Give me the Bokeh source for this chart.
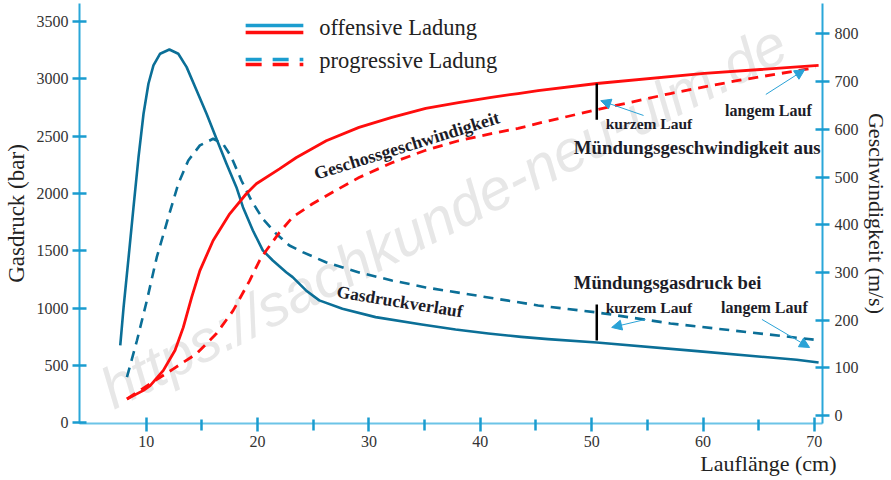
from bokeh.plotting import figure
from bokeh.models import Range1d, LinearAxis, FixedTicker, Label, Arrow, NormalHead, Title
from bokeh.embed import file_html
from bokeh.resources import INLINE

# ---------------- data ----------------
# offensive charge: gas pressure (bar) vs barrel length (cm)
off_p_x = [7.67, 7.97, 8.42, 8.86, 9.31, 9.76, 10.20, 10.65, 11.25, 12.08, 12.88, 13.63, 14.53,
           15.42, 16.31, 17.21, 18.10, 18.69, 19.58, 20.47, 21.37, 22.57, 23.15, 24.35, 25.54,
           27.62, 30.60, 34.74, 37.78, 40.72, 43.67, 46.08, 50.46, 59.48, 68.41, 70.38]
off_p_y = [675, 1009, 1445, 1881, 2318, 2696, 2958, 3118, 3220, 3257, 3220, 3103, 2899,
           2696, 2478, 2260, 2056, 1881, 1678, 1504, 1416, 1314, 1271, 1155, 1068,
           995, 922, 858, 814, 779, 750, 730, 700, 625, 550, 526]
# progressive charge: gas pressure (bar)
prog_p_x = [8.27, 9.17, 10.06, 10.95, 11.99, 12.88, 13.78, 14.82, 16.01, 16.90, 17.65, 18.55,
            19.44, 20.47, 21.67, 22.86, 24.05, 26.14, 29.11, 32.06, 35.10, 45.19, 50.46, 57.07,
            70.30]
prog_p_y = [398, 718, 1067, 1445, 1794, 2085, 2289, 2420, 2478, 2434, 2318, 2114,
            1940, 1780, 1650, 1547, 1489, 1401, 1312, 1242, 1181, 1024, 963, 867,
            722]
# offensive charge: projectile velocity (m/s)
off_v_x = [8.27, 9.76, 10.36, 11.54, 12.59, 13.33, 14.08, 14.82, 16.01, 17.50, 18.99, 19.89,
           21.97, 23.49, 26.17, 29.11, 32.06, 35.10, 38.04, 40.99, 43.40, 45.19, 50.46, 60.11,
           70.38]
off_v_y = [35, 53, 63, 95, 137, 185, 248, 304, 367, 423, 465, 486,
           517, 541, 576, 604, 625, 644, 656, 667, 675, 681, 696, 717,
           734]
# progressive charge: projectile velocity (m/s)
prog_v_x = [8.27, 10.36, 12.44, 14.53, 16.31, 17.80, 19.29, 20.18, 20.78, 21.97, 23.15, 24.94,
            27.03, 29.11, 32.06, 35.10, 38.04, 40.99, 43.40, 45.81, 50.46, 57.07, 63.05, 69.57,
            70.10]
prog_v_y = [35, 67, 98, 130, 172, 220, 283, 325, 346, 384, 416, 444,
            472, 499, 530, 556, 576, 591, 602, 616, 641, 675, 702, 727,
            730]

x_ticks = [10, 20, 30, 40, 50, 60, 70]
x_minor = [15, 25, 35, 45, 55, 65]
p_ticks = [0, 500, 1000, 1500, 2000, 2500, 3000, 3500]
v_ticks = [0, 100, 200, 300, 400, 500, 600, 700, 800]

# marker positions of muzzle values (short / long barrel)
short_x = 50.46
short_v = [696, 620]
short_p = [1032, 718]

# ---------------- styles ----------------
BLUE = "#0b6f97"
RED = "#ff0d0d"
LEG_BLUE = "#1b9dcf"
AXIS = "#2aa7d9"
AXIS_X = "#6cc4e7"
TICK = "#1a9ccf"
ARROW = "#2aa2d6"
TXT = "#1c1c28"
SERIF = "Liberation Serif"

p = figure(width=891, height=480, output_backend="svg", toolbar_location=None,
           x_range=Range1d(4.01, 70.73), y_range=Range1d(-6, 3658),
           min_border_left=79, min_border_right=65, min_border_top=3, min_border_bottom=57)
p.extra_y_ranges = {"v": Range1d(-16.4, 863.6)}
p.grid.visible = False
p.outline_line_color = None
p.background_fill_color = "white"

# watermark
p.add_layout(Label(x=36.7, y=1809, text="https://sachkunde-neu-ulm.de", angle=0.48,
                   text_align="center", text_baseline="middle", text_font="Liberation Sans",
                   text_font_style="italic", text_font_size="58px", text_color="#e7e7e7",
                   level="underlay"))

# axes
xa = p.xaxis[0]
xa.ticker = FixedTicker(ticks=x_ticks, minor_ticks=x_minor)
ya = p.yaxis[0]
ya.ticker = FixedTicker(ticks=p_ticks)
ra = LinearAxis(y_range_name="v", ticker=FixedTicker(ticks=v_ticks))
p.add_layout(ra, "right")

for ax in (xa, ya, ra):
    ax.axis_line_color = AXIS
    ax.axis_line_width = 2
    ax.major_tick_line_color = TICK
    ax.major_tick_line_width = 2.5
    ax.major_tick_in = 7
    ax.major_tick_out = 7
    ax.minor_tick_line_color = None
    ax.major_label_text_font = SERIF
    ax.major_label_text_font_size = "16px"
    ax.major_label_text_font_style = "normal"
    ax.major_label_text_color = "#333333"
    ax.major_label_standoff = 4
    ax.axis_label_text_font = SERIF
    ax.axis_label_text_font_style = "normal"
    ax.axis_label_text_color = "#222222"
xa.axis_line_color = AXIS_X
xa.minor_tick_line_color = TICK
xa.minor_tick_line_width = 2.5
xa.minor_tick_in = 4
xa.minor_tick_out = 7
xa.major_tick_in = 6
xa.major_tick_out = 8
xa.major_label_standoff = 4
ra.major_label_standoff = 5

ya.axis_label = "Gasdruck (bar)"
ya.axis_label_text_font_size = "23px"
ya.axis_label_standoff = 5
ra.axis_label = "Geschwindigkeit (m/s)"
ra.axis_label_text_font_size = "22px"
ra.axis_label_standoff = 2
p.add_layout(Title(text="Lauflänge (cm)", align="right", offset=-14, standoff=0,
                   vertical_align="middle", text_font=SERIF, text_font_style="normal",
                   text_font_size="22px", text_color="#222222"), "below")

# curves
p.line(off_p_x, off_p_y, line_color=BLUE, line_width=2.6, line_join="round")
p.line(prog_p_x, prog_p_y, line_color=BLUE, line_width=2.6, line_dash="10 7")
p.line(off_v_x, off_v_y, line_color=RED, line_width=2.8, line_join="round", y_range_name="v")
p.line(prog_v_x, prog_v_y, line_color=RED, line_width=2.8, line_dash="10 7", y_range_name="v")

# muzzle markers
p.segment(x0=[short_x], y0=[short_v[0]], x1=[short_x], y1=[short_v[1]], line_color="black",
          line_width=2.5, y_range_name="v")
p.segment(x0=[short_x], y0=[short_p[0]], x1=[short_x], y1=[short_p[1]], line_color="black",
          line_width=2.5)

def arrow(x0, y0, x1, y1, rng="default"):
    p.add_layout(Arrow(end=NormalHead(size=10, fill_color=ARROW, line_color=ARROW, line_width=1),
                       x_start=x0, y_start=y0, x_end=x1, y_end=y1, line_color=ARROW,
                       line_width=1, y_range_name=rng))

arrow(54.66, 629, 50.82, 660, "v")
arrow(65.64, 673, 69.13, 725, "v")
arrow(54.84, 902, 51.80, 832)
arrow(65.29, 902, 69.57, 657)

def label(x, y, text, size, bold=True, align="left", angle=0.0, rng="default", color=TXT):
    p.add_layout(Label(x=x, y=y, text=text, text_font=SERIF, text_font_size=size,
                       text_font_style="bold" if bold else "normal", text_color=color,
                       text_align=align, text_baseline="middle", angle=angle, y_range_name=rng))

label(48.40, 562, "Mündungsgeschwindigkeit aus", "18.8px", rng="v")
label(51.26, 612, "kurzem Lauf", "15.5px", rng="v")
label(61.98, 639, "langem Lauf", "16px", rng="v")
label(48.40, 1224, "Mündungsgasdruck bei", "18.6px")
label(51.26, 1006, "kurzem Lauf", "15.5px")
label(61.62, 1006, "langem Lauf", "16px")
label(33.40, 566, "Geschossgeschwindigkeit", "18px", align="center", angle=0.30, rng="v")
label(32.77, 1059, "Gasdruckverlauf", "17.5px", align="center", angle=-0.16)

# legend
leg_x = [18.93, 24.11]
p.line(leg_x, [3466, 3466], line_color=LEG_BLUE, line_width=3.5)
p.line(leg_x, [3405, 3405], line_color=RED, line_width=3.5)
p.line(leg_x, [3170, 3170], line_color=LEG_BLUE, line_width=3.5, line_dash="16 11")
p.line(leg_x, [3126, 3126], line_color=RED, line_width=3.5, line_dash="16 11")
label(25.54, 3449, "offensive Ladung", "22.5px", bold=False, color="#222222")
label(25.54, 3165, "progressive Ladung", "22.5px", bold=False, color="#222222")

open("out.html", "w").write(file_html(p, INLINE))
